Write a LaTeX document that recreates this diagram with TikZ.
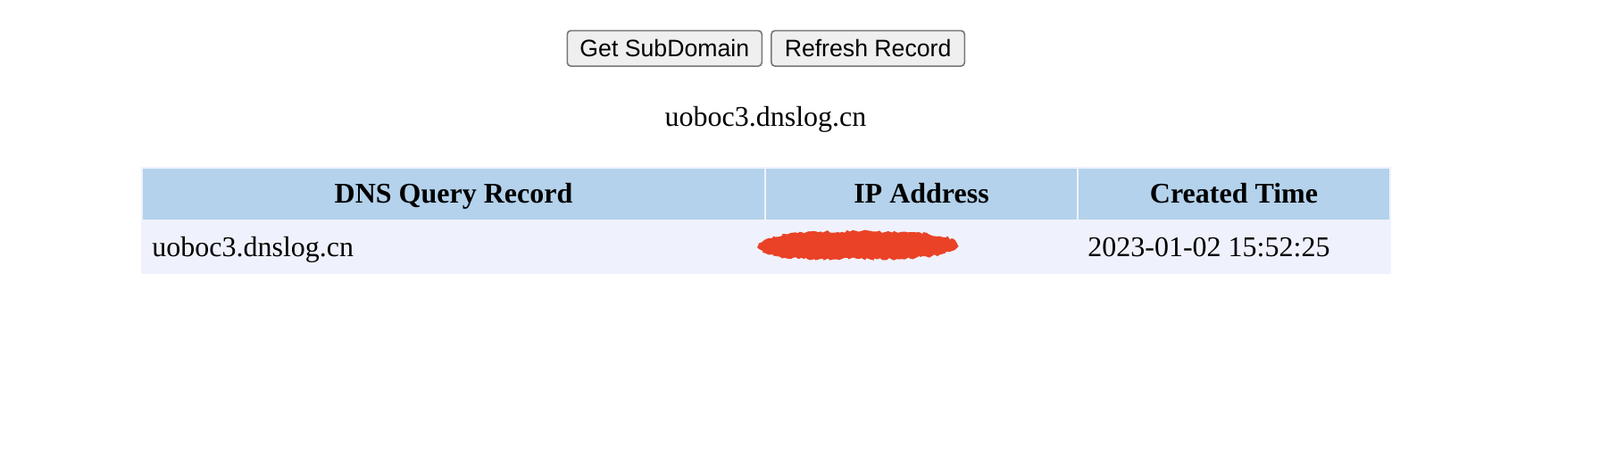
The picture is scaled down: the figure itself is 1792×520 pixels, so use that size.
\documentclass[tikz,border=0pt]{standalone}
\usepackage{fontspec}
\setmainfont{Liberation Serif}
\newfontfamily\buttonfont{Liberation Sans}
\usepackage{xcolor}
\usetikzlibrary{positioning,decorations.pathmorphing}
\definecolor{headblue}{RGB}{180,210,235}
\definecolor{rowblue}{RGB}{239,242,252}
\definecolor{buttongray}{RGB}{239,239,239}
\definecolor{buttonframe}{RGB}{118,118,118}
\definecolor{scribblered}{RGB}{234,66,38}

\begin{document}
\begin{tikzpicture}[x=0.5pt,y=-0.5pt,
		font=\fontsize{16pt}{19pt}\selectfont,
		button/.style={draw=buttonframe,line width=0.8pt,fill=buttongray,rounded corners=2pt,minimum height=19.85pt,text height=9.1pt,text depth=0pt,inner sep=0pt,font=\buttonfont\fontsize{13.33pt}{16pt}\selectfont},
		headcell/.style={fill=headblue,minimum height=28.5pt,text height=9.8pt,text depth=0pt,inner sep=0pt,outer sep=0pt,font=\fontsize{16pt}{19pt}\selectfont\bfseries}]
			\useasboundingbox [fill=white] (0,0) rectangle (1792,520);
			\node (getsub) [button,minimum width=109pt] at (744.3,54.2) {Get SubDomain};
			\node (refresh) [button,minimum width=108.2pt,right=4.5pt of getsub] {Refresh Record};
			\node (domain) [anchor=base,inner sep=0pt] at (857.5,141.7) {uoboc3.dnslog.cn};
			\fill [rowblue] (157.7,186.7) rectangle (1558,306.7);
			\node (dnshead) [headcell,minimum width=348pt] at (508,217.5) {DNS Query Record};
			\node (iphead) [headcell,minimum width=174pt,right=1pt of dnshead] {IP Address};
			\node (timehead) [headcell,minimum width=174pt,right=1pt of iphead] {Created Time};
			\node (dnsrecord) [anchor=base west,inner sep=0pt] at (170,287.3) {uoboc3.dnslog.cn};
			\node (timerecord) [anchor=base west,inner sep=0pt] at (1218,287.3) {2023-01-02 15:52:25};
			\fill [scribblered,decorate,decoration={random steps,segment length=1.5pt,amplitude=0.8pt}]
				(849,276) .. controls (850,263) and (900,259) .. (960,259) .. controls (1020,259) and (1071,262) .. (1072,274) .. controls (1072,287) and (1020,292) .. (960,290) .. controls (900,291) and (850,290) .. (849,276) -- cycle;
		\end{tikzpicture}
\end{document}
